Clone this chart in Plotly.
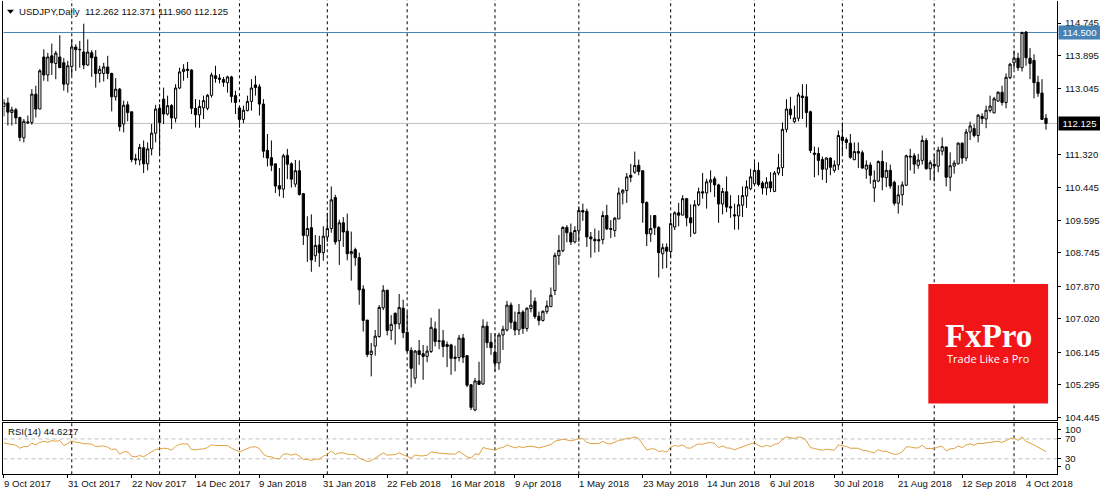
import plotly.graph_objects as go

candles_text = """
112.57 112.76 112.31 112.66
112.66 112.80 112.07 112.42
112.41 112.56 112.07 112.48
112.48 112.53 112.11 112.27
112.28 112.30 111.66 111.76
111.75 112.24 111.63 112.18
112.14 112.33 112.11 112.16
112.15 113.02 112.09 112.89
112.89 113.11 112.28 112.50
112.50 113.54 112.50 113.50
113.86 114.06 113.24 113.39
113.39 113.97 113.22 113.86
113.89 114.21 113.39 113.71
113.69 114.02 113.28 113.96
113.86 114.43 113.58 113.58
113.71 113.83 112.98 113.15
113.15 113.76 112.93 113.63
113.61 114.32 113.37 114.12
114.12 114.19 113.50 114.05
114.06 114.28 113.58 114.05
113.99 114.73 113.54 113.65
113.65 114.32 113.63 113.99
113.97 114.04 113.34 113.84
113.86 114.04 113.06 113.43
113.43 113.63 113.19 113.54
113.43 113.71 113.22 113.60
113.60 113.89 113.28 113.43
113.43 113.45 112.44 112.82
112.82 113.31 112.72 113.02
113.02 113.05 111.92 112.04
112.11 112.72 111.89 112.60
112.61 112.70 112.18 112.41
112.43 112.43 111.11 111.18
111.20 111.33 111.05 111.17
111.17 111.59 111.03 111.50
111.49 111.68 110.83 111.07
111.07 111.63 110.90 111.46
111.46 112.11 111.29 111.87
111.87 112.61 111.63 112.50
112.52 112.63 111.31 112.15
112.76 113.06 112.11 112.37
112.37 112.85 112.33 112.59
112.59 112.63 111.98 112.27
112.26 113.15 112.15 113.05
113.05 113.58 113.02 113.47
113.48 113.67 113.24 113.54
113.54 113.73 113.31 113.51
113.52 113.54 112.37 112.52
112.52 112.76 112.02 112.35
112.35 112.74 112.01 112.57
112.53 112.85 112.24 112.72
112.52 112.89 112.47 112.86
112.86 113.45 112.80 113.39
113.37 113.63 113.19 113.30
113.31 113.41 113.17 113.28
113.27 113.34 113.08 113.20
113.19 113.37 112.93 113.34
113.34 113.37 112.67 112.83
112.85 112.98 112.37 112.67
112.53 112.54 112.01 112.23
112.23 112.59 112.13 112.47
112.46 112.85 112.44 112.70
112.70 113.28 112.46 113.05
113.13 113.37 112.85 113.06
113.08 113.15 112.33 112.63
112.63 112.76 111.23 111.40
111.42 111.85 111.00 111.22
111.23 111.68 110.88 111.03
111.07 111.07 110.31 110.49
110.50 110.96 110.22 110.41
110.41 111.33 110.18 111.28
111.29 111.46 110.67 111.06
111.07 111.11 110.45 110.67
110.54 111.17 110.46 110.89
110.89 111.16 110.24 110.27
110.29 110.31 108.95 109.20
109.19 109.70 108.51 109.38
109.40 109.75 108.25 108.56
108.67 109.21 108.51 108.94
108.95 109.19 108.38 108.75
108.75 109.44 108.54 109.18
109.16 109.79 109.03 109.38
109.38 110.48 109.27 110.13
110.19 110.26 108.96 109.03
109.06 109.61 108.43 109.53
109.53 109.68 108.90 109.29
109.31 109.77 108.55 108.72
108.72 109.30 108.02 108.78
108.83 108.88 108.41 108.62
108.62 108.75 107.39 107.78
107.80 107.90 106.69 106.98
106.99 106.99 106.02 106.09
106.09 106.39 105.52 106.18
106.31 106.73 106.06 106.57
106.56 107.38 106.53 107.32
107.31 107.90 107.25 107.77
107.77 107.77 106.59 106.72
106.72 107.12 106.47 106.88
107.17 107.18 106.35 106.89
106.89 107.67 106.75 107.32
107.30 107.52 106.52 106.66
106.67 107.21 106.15 106.19
106.20 106.28 105.23 105.73
105.47 106.21 105.33 106.18
106.19 106.47 105.82 106.09
106.11 106.34 105.43 106.04
106.04 106.32 105.89 106.18
106.17 107.05 106.13 106.80
106.76 106.95 106.30 106.43
106.45 107.28 106.23 106.43
106.45 106.73 106.02 106.30
106.35 106.43 105.76 106.30
106.34 106.37 105.56 105.99
106.02 106.32 105.65 105.99
106.01 106.60 105.91 106.52
106.52 106.63 105.87 106.02
106.06 106.06 105.24 105.29
105.30 105.32 104.64 104.71
104.64 105.48 104.61 105.40
105.40 105.90 105.30 105.31
105.32 107.01 105.30 106.83
106.83 106.95 106.26 106.40
106.41 106.65 106.08 106.27
106.15 106.65 105.65 105.86
105.87 106.66 105.69 106.60
106.60 106.84 106.21 106.75
106.73 107.49 106.69 107.38
107.38 107.45 106.76 106.93
106.94 107.21 106.59 106.73
106.73 107.41 106.60 107.19
107.20 107.25 106.63 106.77
106.77 107.32 106.69 107.30
107.29 107.78 107.19 107.38
107.48 107.58 107.02 107.08
107.09 107.21 106.85 106.98
106.98 107.24 106.95 107.22
107.21 107.50 107.15 107.36
107.34 107.84 107.34 107.64
107.76 108.75 107.64 108.68
108.67 109.21 108.43 108.81
108.80 109.44 108.76 109.41
109.41 109.47 109.02 109.27
109.27 109.51 108.95 109.03
109.03 109.44 108.99 109.33
109.32 109.96 109.03 109.85
109.85 110.03 109.58 109.81
109.83 109.90 108.90 109.16
109.16 109.29 108.62 109.11
109.10 109.38 108.75 109.06
109.09 109.33 108.77 109.06
109.09 109.83 108.97 109.72
109.72 110.00 109.34 109.37
109.38 109.60 109.13 109.36
109.33 109.68 109.16 109.65
109.63 110.45 109.63 110.31
110.31 110.41 110.01 110.38
110.37 110.83 110.05 110.73
110.77 111.07 110.59 110.72
110.85 111.39 110.81 111.03
111.03 111.18 110.77 110.87
110.89 110.90 109.53 110.05
110.06 110.09 108.92 109.24
109.24 109.73 109.03 109.38
109.72 109.73 109.21 109.40
109.41 109.44 108.10 108.75
108.72 108.99 108.33 108.88
108.89 108.99 108.35 108.79
108.78 109.77 108.62 109.51
109.42 109.83 109.34 109.79
109.79 110.05 109.44 109.73
109.73 110.25 109.73 110.16
110.16 110.18 109.44 109.66
109.66 110.01 109.16 109.53
109.26 110.12 109.23 110.00
110.00 110.45 109.97 110.34
110.34 110.83 110.16 110.31
110.31 110.68 109.90 110.60
110.59 110.90 110.33 110.65
110.68 110.74 110.20 110.52
110.52 110.55 109.53 110.02
110.02 110.44 109.75 110.35
110.34 110.74 109.81 109.94
109.95 110.25 109.66 109.92
109.74 110.03 109.35 109.71
109.71 110.25 109.35 110.00
109.99 110.48 109.68 110.24
110.23 110.64 109.92 110.47
110.42 110.94 110.38 110.73
110.55 111.11 110.50 110.90
110.90 111.11 110.48 110.53
110.57 110.62 110.27 110.44
110.44 110.72 110.25 110.59
110.60 110.85 110.33 110.44
110.35 110.88 110.33 110.83
110.83 111.33 110.77 110.97
110.97 112.15 110.75 111.97
111.97 112.76 111.89 112.50
112.50 112.82 112.24 112.35
112.17 112.59 112.13 112.27
112.26 112.93 112.18 112.87
112.84 113.15 112.24 112.80
112.82 113.15 112.02 112.41
112.43 112.46 111.35 111.42
111.35 111.52 110.72 111.32
111.34 111.50 110.77 111.16
111.18 111.26 110.65 110.93
110.93 111.24 110.57 111.22
111.22 111.24 110.77 110.98
110.90 111.16 110.84 111.04
111.04 111.94 110.91 111.81
111.77 112.15 111.29 111.68
111.70 111.76 111.46 111.63
111.61 111.85 111.20 111.24
111.18 111.63 111.16 111.39
111.39 111.63 110.96 111.35
111.36 111.42 110.94 110.96
110.93 111.16 110.68 111.04
111.04 111.11 110.55 110.77
110.44 110.90 110.07 110.64
110.62 111.16 110.59 111.13
111.13 111.42 110.38 110.72
110.71 111.11 110.46 110.90
110.90 111.05 110.42 110.49
110.59 110.63 109.98 110.04
110.04 110.51 109.77 110.26
110.26 110.61 109.98 110.52
110.51 111.31 110.49 111.28
111.27 111.46 110.90 111.25
111.28 111.35 110.81 111.06
111.03 111.33 110.94 111.17
111.16 111.81 111.05 111.68
111.68 111.74 110.92 110.94
110.94 111.16 110.64 111.10
111.06 111.33 110.61 111.01
111.01 111.52 110.85 111.43
111.40 111.76 111.29 111.52
111.51 111.52 110.48 110.72
110.72 111.37 110.36 111.02
111.01 111.16 110.81 111.09
111.07 111.63 111.05 111.61
111.61 111.63 111.07 111.22
111.22 111.98 111.14 111.90
111.90 112.17 111.69 112.06
111.99 112.11 111.76 111.81
111.81 112.37 111.63 112.34
112.31 112.39 112.11 112.25
112.24 112.59 112.00 112.47
112.46 112.85 112.41 112.58
112.40 112.82 112.39 112.77
112.71 112.96 112.69 112.94
112.94 113.11 112.59 112.67
112.67 113.43 112.52 113.33
113.32 113.71 113.28 113.67
113.71 114.03 113.54 113.83
113.83 113.97 113.50 113.58
113.58 114.52 113.48 114.50
114.51 114.54 113.63 113.84
113.83 114.09 113.28 113.69
113.77 113.93 112.78 113.19
113.20 113.37 112.82 112.91
112.92 113.28 112.22 112.23
112.262 112.371 111.960 112.125
"""

rows = [[float(v) for v in line.split()] for line in candles_text.strip().splitlines()]
opens = [r[0] for r in rows]
highs = [r[1] for r in rows]
lows = [r[2] for r in rows]
closes = [r[3] for r in rows]
bars = list(range(len(rows)))

rsi_values = [
    62.0, 60.7, 59.3, 57.3, 51.3, 54.7, 54.7, 61.3, 58.0, 63.3,
    65.3, 63.3, 66.7, 65.3, 66.7, 56.7, 60.7, 66.0, 63.3, 62.7,
    60.0, 60.7, 59.3, 54.7, 55.3, 56.0, 53.3, 48.7, 50.0, 39.3,
    44.0, 44.0, 35.3, 34.0, 36.7, 34.0, 39.3, 44.7, 48.7, 50.0,
    51.3, 50.7, 47.3, 55.3, 59.3, 60.0, 60.0, 48.7, 48.0, 49.3,
    50.0, 52.7, 58.0, 56.7, 56.7, 56.0, 56.7, 51.3, 47.3, 44.0,
    47.3, 50.7, 54.0, 54.0, 50.7, 39.3, 34.7, 34.0, 30.7, 30.0,
    39.3, 40.0, 37.3, 40.0, 35.3, 28.7, 29.3, 26.7, 29.3, 29.3,
    35.3, 38.7, 46.0, 38.7, 42.0, 42.0, 39.3, 38.7, 38.0, 31.3,
    28.7, 24.7, 26.0, 31.3, 38.0, 42.0, 37.3, 37.3, 38.7, 42.0,
    38.7, 36.0, 31.3, 38.0, 36.0, 36.0, 37.3, 44.0, 42.0, 41.3,
    40.7, 40.0, 39.3, 39.3, 45.3, 39.3, 34.0, 31.3, 40.0, 38.7,
    52.7, 50.7, 49.3, 47.3, 51.3, 52.7, 58.0, 54.7, 52.0, 54.7,
    52.7, 54.7, 55.3, 54.0, 52.0, 54.0, 56.0, 58.7, 65.3, 66.7,
    69.3, 68.0, 66.0, 68.0, 70.7, 70.7, 63.3, 60.7, 60.0, 60.7,
    65.3, 60.7, 60.0, 64.0, 67.3, 68.0, 71.3, 71.3, 74.0, 70.7,
    59.3, 48.0, 50.0, 50.0, 44.7, 46.0, 43.3, 54.0, 56.7, 55.3,
    58.0, 52.0, 51.3, 56.7, 60.0, 59.3, 62.0, 62.7, 60.7, 52.7,
    56.0, 52.0, 51.3, 48.0, 51.3, 54.7, 58.0, 60.0, 62.0, 56.7,
    54.0, 57.3, 54.7, 59.3, 60.7, 69.3, 74.0, 72.0, 70.7, 74.0,
    72.7, 66.0, 52.7, 50.7, 49.3, 47.3, 49.3, 48.0, 47.3, 58.0,
    56.7, 54.7, 51.3, 51.3, 51.3, 47.3, 46.7, 44.0, 42.0, 48.7,
    45.3, 45.3, 42.0, 38.7, 40.0, 44.0, 54.0, 54.0, 52.0, 52.0,
    57.3, 50.7, 50.7, 50.7, 54.0, 55.3, 46.0, 50.0, 50.7, 56.0,
    52.7, 58.0, 60.0, 57.3, 61.3, 60.7, 62.0, 63.3, 64.0, 65.3,
    62.7, 67.3, 70.7, 72.0, 66.7, 74.0, 64.7, 62.0, 58.0, 54.0,
    48.7, 44.6,
]

price_ticks = [114.745, 113.895, 113.045, 111.320, 110.445, 109.595,
               108.745, 107.870, 107.020, 106.145, 105.295, 104.445]
price_tick_text = ["114.745", "113.895", "113.045", "111.320", "110.445", "109.595",
                   "108.745", "107.870", "107.020", "106.145", "105.295", "104.445"]

rsi_tick_pos = [89, 70, 30, 15]
rsi_tick_text = ["100", "70", "30", "0"]
rsi_levels = [70, 30]

date_bars = [0, 16, 32, 48, 64, 80, 96, 112, 128, 144, 160, 176, 192, 208, 224, 240, 256]
date_labels = ["9 Oct 2017", "31 Oct 2017", "22 Nov 2017", "14 Dec 2017", "9 Jan 2018",
               "31 Jan 2018", "22 Feb 2018", "16 Mar 2018", "9 Apr 2018", "1 May 2018",
               "23 May 2018", "14 Jun 2018", "6 Jul 2018", "30 Jul 2018", "21 Aug 2018",
               "12 Sep 2018", "4 Oct 2018"]
month_start_bars = [17, 39, 59, 81, 101, 123, 144, 167, 188, 210, 233, 253]

W, H = 1100, 495
FONT = "Liberation Sans"
FS = 9.6
TXT = "#111111"

def py(p):
    return 1 - (p + 1.2) / H

def px(p):
    return (p + 1) / W

fig = go.Figure()
fig.add_trace(go.Candlestick(
    x=bars, open=opens, high=highs, low=lows, close=closes,
    increasing=dict(line=dict(color="black", width=1), fillcolor="white"),
    decreasing=dict(line=dict(color="black", width=1), fillcolor="black"),
    whiskerwidth=0, xaxis="x", yaxis="y", showlegend=False, hoverinfo="skip",
))
fig.add_trace(go.Scatter(
    x=bars, y=rsi_values, mode="lines", xaxis="x2", yaxis="y2",
    line=dict(color="#E0A040", width=1), showlegend=False, hoverinfo="skip",
))

shapes = []
for b in month_start_bars:
    shapes.append(dict(type="line", xref="x", yref="paper", x0=b, x1=b,
                       y0=py(475), y1=1, layer="below",
                       line=dict(color="black", width=1, dash="3px,3px")))
shapes.append(dict(type="line", xref="paper", yref="y", x0=px(2.5), x1=px(1058), y0=114.5, y1=114.5,
                   layer="below", line=dict(color="#4682B4", width=1)))
shapes.append(dict(type="line", xref="paper", yref="y", x0=px(2.5), x1=px(1058), y0=112.125, y1=112.125,
                   layer="below", line=dict(color="#C0C0C0", width=1)))
for lv in rsi_levels:
    shapes.append(dict(type="line", xref="paper", yref="y2", x0=px(2.5), x1=px(1058), y0=lv, y1=lv,
                       layer="below", line=dict(color="#C0C0C0", width=1, dash="4px,3px")))
shapes.append(dict(type="rect", xref="paper", yref="paper", x0=px(929), x1=px(1049),
                   y0=py(404), y1=py(284), fillcolor="#F11517", line=dict(width=0), layer="above"))
shapes.append(dict(type="path", xref="paper", yref="paper",
                   path=f"M {px(6)} {py(8.5)} L {px(13)} {py(8.5)} L {px(9.5)} {py(12.5)} Z",
                   fillcolor="black", line=dict(width=0)))

ann = []
for b, t in zip(date_bars, date_labels):
    ann.append(dict(x=b, xref="x2", y=py(484), yref="paper", text=t, showarrow=False,
                    xanchor="left", yanchor="middle", xshift=-2,
                    font=dict(family=FONT, size=FS, color=TXT)))
ann.append(dict(x=px(16), xref="paper", y=py(10.5), yref="paper", xanchor="left", yanchor="middle",
                text="USDJPY,Daily  112.262 112.371 111.960 112.125", showarrow=False,
                font=dict(family=FONT, size=FS, color=TXT)))
ann.append(dict(x=px(5), xref="paper", y=py(432), yref="paper", xanchor="left", yanchor="middle",
                text="RSI(14) 44.6217", showarrow=False,
                font=dict(family=FONT, size=FS, color=TXT)))
ann.append(dict(x=px(1058.5), xref="paper", y=114.5, yref="y", xanchor="left", yanchor="middle",
                text="114.500", showarrow=False, bgcolor="#4682B4", width=41, height=13, borderpad=0,
                font=dict(family=FONT, size=FS, color="white")))
ann.append(dict(x=px(1058.5), xref="paper", y=112.125, yref="y", xanchor="left", yanchor="middle",
                text="112.125", showarrow=False, bgcolor="black", width=41, height=13, borderpad=0,
                font=dict(family=FONT, size=FS, color="white")))
ann.append(dict(x=px(989.5), xref="paper", y=py(336), yref="paper", xanchor="center", yanchor="middle",
                text="FxPro", showarrow=False,
                font=dict(family="Liberation Serif", size=33, weight=700, color="white")))
ann.append(dict(x=px(989.5), xref="paper", y=py(358.5), yref="paper", xanchor="center", yanchor="middle",
                text="Trade Like a Pro", showarrow=False,
                font=dict(family="Open Sans", size=11, color="white")))

xrange_ = [-0.1, 263.775]
axis_line = dict(showline=True, linecolor="black", linewidth=1)
fig.update_layout(
    width=W, height=H, paper_bgcolor="white", plot_bgcolor="white",
    margin=dict(l=0, r=0, t=0, b=0), showlegend=False, boxgap=0.2,
    font=dict(family=FONT, size=FS, color=TXT),
    shapes=shapes, annotations=ann,
    xaxis=dict(domain=[px(2.5), px(1058)], range=xrange_, anchor="y", rangeslider=dict(visible=False),
               showgrid=False, zeroline=False, showticklabels=False, ticks="", **axis_line),
    yaxis=dict(domain=[py(421), py(0)], range=[104.367, 115.317], anchor="x", side="right",
               showgrid=False, zeroline=False, tickmode="array", tickvals=price_ticks,
               ticktext=price_tick_text, ticks="outside", ticklen=3, tickcolor="black",
               ticklabelstandoff=2, mirror=True, tickfont=dict(family=FONT, size=FS, color=TXT), **axis_line),
    xaxis2=dict(domain=[px(2.5), px(1058)], range=xrange_, anchor="y2", showgrid=False, zeroline=False,
                tickmode="array", tickvals=date_bars, ticktext=[""] * len(date_bars),
                ticks="outside", ticklen=3, tickcolor="black", mirror=True, **axis_line),
    yaxis2=dict(domain=[py(475), py(424)], range=[-1, 101], anchor="x2", side="right",
                showgrid=False, zeroline=False, tickmode="array", tickvals=rsi_tick_pos,
                ticktext=rsi_tick_text, ticks="outside", ticklen=3, tickcolor="black",
                ticklabelstandoff=2, mirror=True, tickfont=dict(family=FONT, size=FS, color=TXT), **axis_line),
)
css = ("var s=document.createElement('style');"
       "s.textContent='html,body{margin:0;padding:0;overflow:hidden;width:1100px;height:495px}"
       " .plotly-graph-div,.svg-container{display:block}';"
       "document.head.appendChild(s);")
fig.write_html("out.html", config=dict(displayModeBar=False), post_script=css)
